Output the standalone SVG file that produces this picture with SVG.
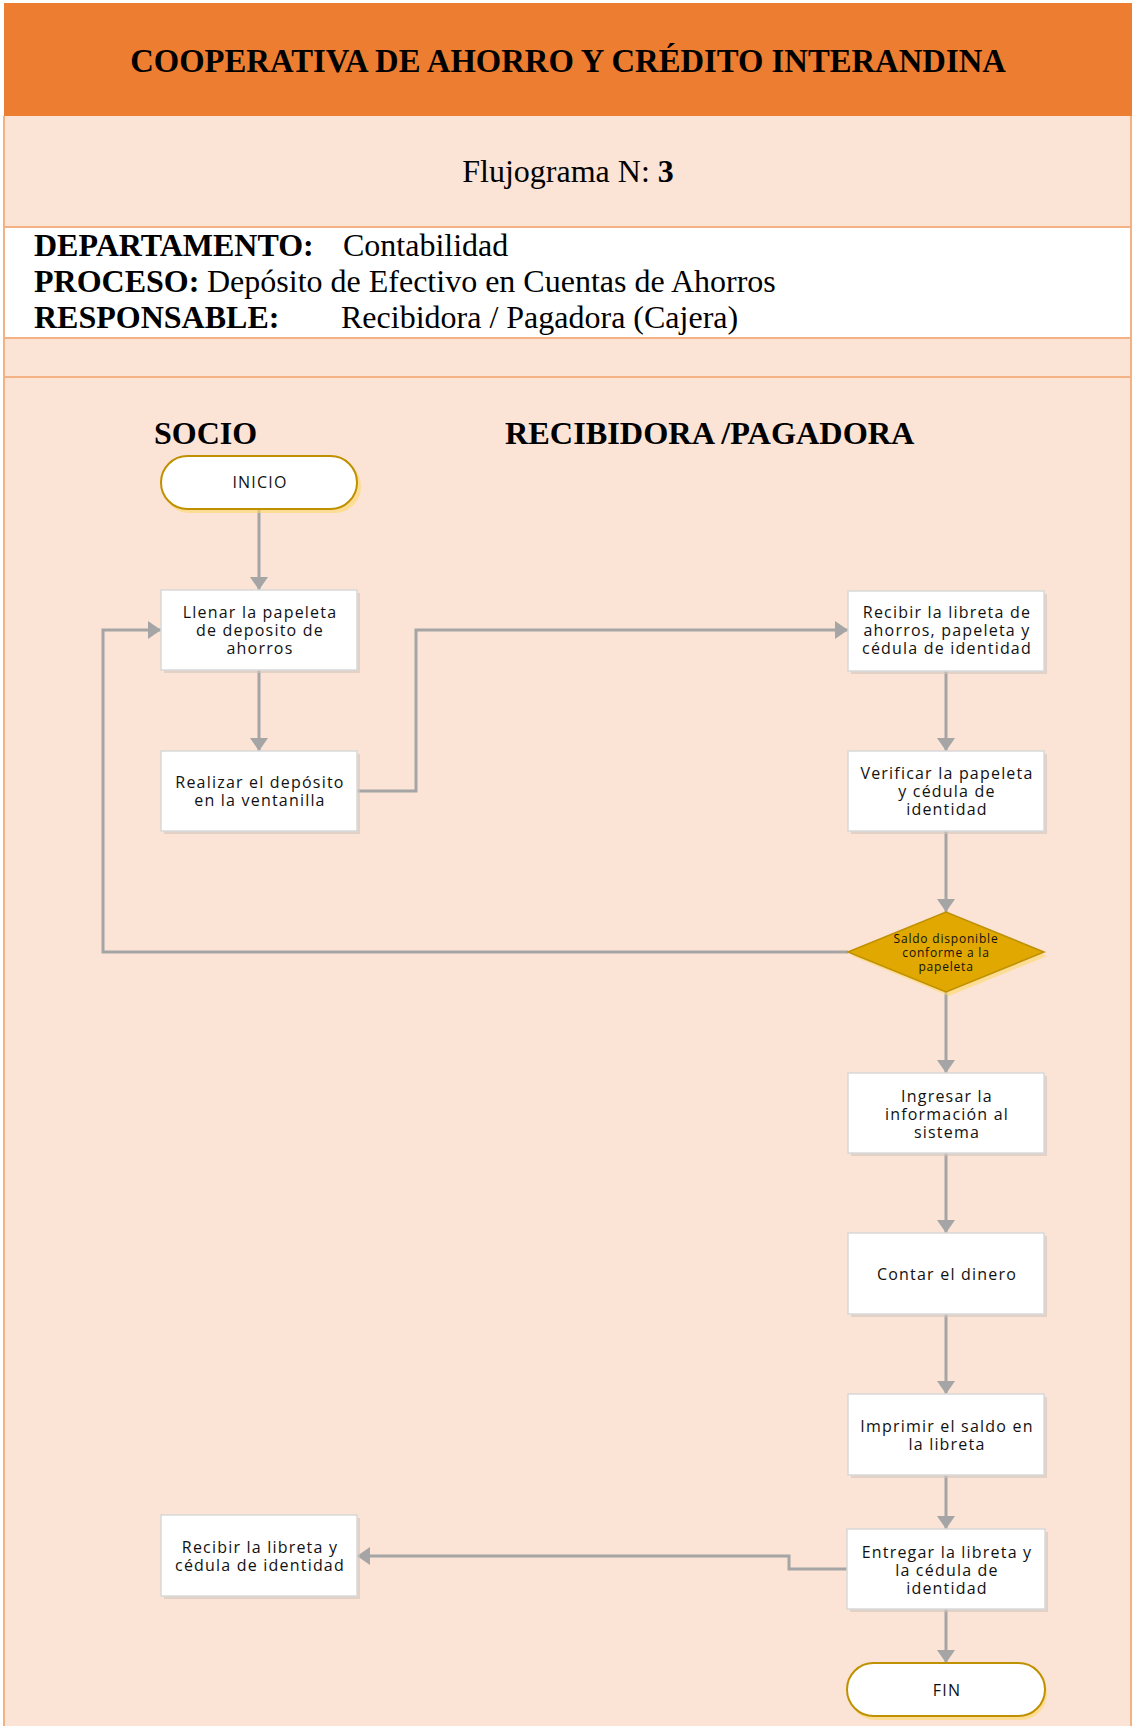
<svg xmlns="http://www.w3.org/2000/svg" width="1134" height="1726" viewBox="0 0 1134 1726">
<style>
.hd{font-family:"Liberation Serif","Times New Roman",serif;font-size:32px;fill:#000}
.b{font-weight:bold}
.t{font-family:"Open Sans","DejaVu Sans",sans-serif;font-size:16px;letter-spacing:1.2px;fill:#111;text-anchor:middle}
.dt{font-size:12px;letter-spacing:0.8px}
.box{fill:#fff;stroke:#D9D9D9;stroke-width:1.5}
.sh{fill:#D0C4BC;opacity:0.6}
.term{fill:#fff;stroke:#BF9000;stroke-width:2}
.tsh{fill:#FFD966;opacity:0.6}
.con{fill:none;stroke:#A5A5A5;stroke-width:3;marker-end:url(#ah)}
.band{stroke:#F4B183;stroke-width:2}
</style>
<defs>
<marker id="ah" markerUnits="userSpaceOnUse" markerWidth="14" markerHeight="18" viewBox="0 0 14 18" refX="13" refY="9" orient="auto">
<path d="M0 0 L13 9 L0 18 Z" fill="#A5A5A5"/>
</marker>
</defs>
<rect x="0" y="0" width="1134" height="1726" fill="#fff"/>
<rect x="4" y="3" width="1128" height="113" fill="#ED7D31"/>
<rect x="4" y="116" width="1128" height="111" fill="#FBE3D6"/>
<rect x="4" y="227" width="1128" height="111" fill="#fff"/>
<rect x="4" y="338" width="1128" height="1388" fill="#FBE3D6"/>
<g class="band">
<line x1="4" y1="227" x2="1132" y2="227"/>
<line x1="4" y1="338" x2="1132" y2="338"/>
<line x1="4" y1="377" x2="1132" y2="377"/>
<line x1="4" y1="116" x2="4" y2="1726"/>
<line x1="1131" y1="116" x2="1131" y2="1726"/>
</g>
<text class="hd b" x="568" y="72" text-anchor="middle" style="font-size:32.7px">COOPERATIVA  DE AHORRO Y CRÉDITO INTERANDINA</text>
<text class="hd" x="568" y="182" text-anchor="middle">Flujograma N: <tspan class="b">3</tspan></text>
<text class="hd" x="34" y="256"><tspan class="b">DEPARTAMENTO:</tspan></text>
<text class="hd" x="343" y="256">Contabilidad</text>
<text class="hd" x="34" y="292"><tspan class="b">PROCESO:</tspan><tspan x="207">Depósito de Efectivo en Cuentas de Ahorros</tspan></text>
<text class="hd" x="34" y="328"><tspan class="b">RESPONSABLE:</tspan></text>
<text class="hd" x="341" y="328">Recibidora / Pagadora (Cajera)</text>
<text class="hd b" x="154" y="444">SOCIO</text>
<text class="hd b" x="505" y="444" style="font-size:32.3px">RECIBIDORA /PAGADORA</text>

<g id="connectors">
<path class="con" d="M259 509 V590"/>
<path class="con" d="M259 670 V751"/>
<path class="con" d="M357 791 H416 V630 H848"/>
<path class="con" d="M946 670 V751"/>
<path class="con" d="M946 831 V912"/>
<path class="con" d="M848 952 H103 V630 H161"/>
<path class="con" d="M946 992 V1073"/>
<path class="con" d="M946 1153 V1233"/>
<path class="con" d="M946 1314 V1394"/>
<path class="con" d="M946 1475 V1529"/>
<path class="con" d="M847 1569 H789 V1556 H357"/>
<path class="con" d="M946 1609 V1663"/>
</g>

<g id="inicio">
<rect class="tsh" x="163" y="460" width="198" height="53" rx="26.5"/>
<rect class="term" x="161" y="456" width="196" height="53" rx="26.5"/>
<text class="t" x="260" y="488">INICIO</text>
</g>
<g id="llenar">
<rect class="sh" x="164" y="593" width="196" height="80"/>
<rect class="box" x="161" y="590" width="196" height="80"/>
<text class="t" x="260" y="618">Llenar la papeleta</text>
<text class="t" x="260" y="636">de deposito de</text>
<text class="t" x="260" y="654">ahorros</text>
</g>
<g id="realizar">
<rect class="sh" x="164" y="754" width="196" height="80"/>
<rect class="box" x="161" y="751" width="196" height="80"/>
<text class="t" x="260" y="788">Realizar el depósito</text>
<text class="t" x="260" y="806">en la ventanilla</text>
</g>
<g id="recibir">
<rect class="sh" x="851" y="594" width="196" height="80"/>
<rect class="box" x="848" y="591" width="196" height="80"/>
<text class="t" x="947" y="618">Recibir la libreta de</text>
<text class="t" x="947" y="636">ahorros, papeleta y</text>
<text class="t" x="947" y="654">cédula de identidad</text>
</g>
<g id="verificar">
<rect class="sh" x="851" y="754" width="196" height="80"/>
<rect class="box" x="848" y="751" width="196" height="80"/>
<text class="t" x="947" y="779">Verificar la papeleta</text>
<text class="t" x="947" y="797">y cédula de</text>
<text class="t" x="947" y="815">identidad</text>
</g>
<g id="decision">
<path d="M852 956 L949 916 L1047 956 L949 996 Z" fill="#FFD966" opacity="0.6"/>
<path d="M848 952 L946 912 L1044 952 L946 992 Z" fill="#E0A800" stroke="#BF9000" stroke-width="1.5"/>
<text class="t dt" x="946" y="943">Saldo disponible</text>
<text class="t dt" x="946" y="957">conforme a la</text>
<text class="t dt" x="946" y="971">papeleta</text>
</g>
<g id="ingresar">
<rect class="sh" x="851" y="1076" width="196" height="80"/>
<rect class="box" x="848" y="1073" width="196" height="80"/>
<text class="t" x="947" y="1102">Ingresar la</text>
<text class="t" x="947" y="1120">información al</text>
<text class="t" x="947" y="1138">sistema</text>
</g>
<g id="contar">
<rect class="sh" x="851" y="1236" width="196" height="81"/>
<rect class="box" x="848" y="1233" width="196" height="81"/>
<text class="t" x="947" y="1280">Contar el dinero</text>
</g>
<g id="imprimir">
<rect class="sh" x="851" y="1397" width="196" height="81"/>
<rect class="box" x="848" y="1394" width="196" height="81"/>
<text class="t" x="947" y="1432">Imprimir el saldo en</text>
<text class="t" x="947" y="1450">la libreta</text>
</g>
<g id="entregar">
<rect class="sh" x="850" y="1532" width="198" height="80"/>
<rect class="box" x="847" y="1529" width="198" height="80"/>
<text class="t" x="947" y="1558">Entregar la libreta y</text>
<text class="t" x="947" y="1576">la cédula de</text>
<text class="t" x="947" y="1594">identidad</text>
</g>
<g id="recibir-libreta">
<rect class="sh" x="164" y="1518" width="196" height="81"/>
<rect class="box" x="161" y="1515" width="196" height="81"/>
<text class="t" x="260" y="1553">Recibir la libreta y</text>
<text class="t" x="260" y="1571">cédula de identidad</text>
</g>
<g id="fin">
<rect class="tsh" x="849" y="1667" width="198" height="53" rx="26.5"/>
<rect class="term" x="847" y="1663" width="198" height="53" rx="26.5"/>
<text class="t" x="947" y="1696">FIN</text>
</g>
</svg>
